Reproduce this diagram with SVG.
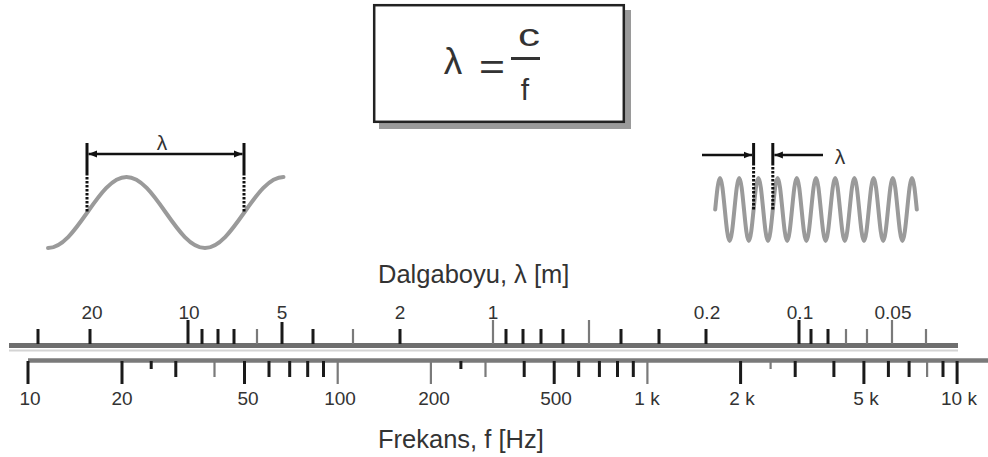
<svg xmlns="http://www.w3.org/2000/svg" width="988" height="457" viewBox="0 0 988 457">
<style>
.t{font-family:"Liberation Sans",Arial,sans-serif;fill:#333}
.num{font-size:19px;text-anchor:middle}
.ax{font-size:25.5px}
.wave{fill:none;stroke:#9a9a9a;stroke-width:4;stroke-linecap:round}
.vs{stroke:#111;stroke-width:3}
.vd{stroke:#111;stroke-width:3;stroke-dasharray:2.5,1.5}
.arr{stroke:#111;stroke-width:2.5;fill:none}
.tk{stroke:#1a1a1a;stroke-width:3;fill:none}
.tg{stroke:#7a7a7a;stroke-width:2.2;fill:none}
</style>
<defs>
<marker id="ah" viewBox="0 0 10 10" refX="10" refY="5" markerWidth="3.4" markerHeight="3.4" orient="auto-start-reverse">
<path d="M0,1 L10,5 L0,9 z" fill="#111"/>
</marker>
</defs>
<rect width="988" height="457" fill="#fff"/>

<g id="formula">
<rect x="379" y="10" width="252" height="119" fill="#9a9a9a"/>
<rect x="374.2" y="5.2" width="249.6" height="116.6" fill="#fff" stroke="#222" stroke-width="2.5"/>
<text class="t" x="453" y="74" font-size="37" text-anchor="middle">λ</text>
<text class="t" x="479" y="79" font-size="37" textLength="26" lengthAdjust="spacingAndGlyphs">=</text>
<text class="t" x="518" y="46" font-size="31" textLength="22" lengthAdjust="spacingAndGlyphs">c</text>
<line x1="511" y1="58.5" x2="540" y2="58.5" stroke="#333" stroke-width="3"/>
<text class="t" x="525" y="100" font-size="30" text-anchor="middle">f</text>
</g>

<g id="long-wave">
<path class="wave" d="M48,248 C62.2,248 74.45,230.7 87.25,212.5 S112.3,177 126.5,177 S153,194.3 165.75,212.5 S190.8,248 205,248 S231.45,230.7 244.25,212.5 S269.3,177 283.5,177"/>
<line class="vs" x1="87" y1="143" x2="87" y2="173"/>
<line class="vd" x1="87" y1="173" x2="87" y2="212.5"/>
<line class="vs" x1="244" y1="143" x2="244" y2="173"/>
<line class="vd" x1="244" y1="173" x2="244" y2="212.5"/>
<line class="arr" x1="88.5" y1="154" x2="242.5" y2="154" marker-start="url(#ah)" marker-end="url(#ah)"/>
<text class="t" x="162" y="150" font-size="21" text-anchor="middle">λ</text>
</g>

<g id="short-wave">
<path class="wave" d="M715.2,209.5 c1.565,-16.14 3.062,-31.5 4.8,-31.5
s3.235,15.36 4.8,31.5 s3.062,31.5 4.8,31.5 s3.235,-15.36 4.8,-31.5 s3.062,-31.5 4.8,-31.5
s3.235,15.36 4.8,31.5 s3.062,31.5 4.8,31.5 s3.235,-15.36 4.8,-31.5 s3.062,-31.5 4.8,-31.5
s3.235,15.36 4.8,31.5 s3.062,31.5 4.8,31.5 s3.235,-15.36 4.8,-31.5 s3.062,-31.5 4.8,-31.5
s3.235,15.36 4.8,31.5 s3.062,31.5 4.8,31.5 s3.235,-15.36 4.8,-31.5 s3.062,-31.5 4.8,-31.5
s3.235,15.36 4.8,31.5 s3.062,31.5 4.8,31.5 s3.235,-15.36 4.8,-31.5 s3.062,-31.5 4.8,-31.5
s3.235,15.36 4.8,31.5 s3.062,31.5 4.8,31.5 s3.235,-15.36 4.8,-31.5 s3.062,-31.5 4.8,-31.5
s3.235,15.36 4.8,31.5 s3.062,31.5 4.8,31.5 s3.235,-15.36 4.8,-31.5 s3.062,-31.5 4.8,-31.5
s3.235,15.36 4.8,31.5 s3.062,31.5 4.8,31.5 s3.235,-15.36 4.8,-31.5 s3.062,-31.5 4.8,-31.5
s3.235,15.36 4.8,31.5 s3.062,31.5 4.8,31.5 s3.235,-15.36 4.8,-31.5 s3.062,-31.5 4.8,-31.5
s3.235,15.36 4.8,31.5 s3.062,31.5 4.8,31.5 s3.235,-15.36 4.8,-31.5 s3.062,-31.5 4.8,-31.5
s3.235,15.36 4.8,31.5"/>
<line class="vs" x1="753.6" y1="143" x2="753.6" y2="163"/>
<line class="vd" x1="753.6" y1="163" x2="753.6" y2="209.5"/>
<line class="vs" x1="772.8" y1="143" x2="772.8" y2="163"/>
<line class="vd" x1="772.8" y1="163" x2="772.8" y2="209.5"/>
<line class="arr" x1="702" y1="155" x2="752" y2="155" marker-end="url(#ah)"/>
<line class="arr" x1="823" y1="155" x2="774.4" y2="155" marker-end="url(#ah)"/>
<text class="t" x="840" y="164" font-size="21" text-anchor="middle">λ</text>
</g>

<g id="wavelength-scale">
<text class="t ax" x="378" y="283">Dalgaboyu, λ [m]</text>
<line x1="9" y1="350.5" x2="958" y2="350.5" stroke="#d4d4d4" stroke-width="2"/>
<line x1="9" y1="345.5" x2="958" y2="345.5" stroke="#6e6e6e" stroke-width="5"/>
<path class="tk" d="M38,329V344 M90,329V344 M202,329V344 M218,329V344 M234,329V344 M313,329V344 M400,329V344 M506,329V344 M523,329V344 M541,329V344 M563,329V344 M621,329V344 M659,329V344 M706,329V344 M811,329V344 M828,329V344 M188,320V344 M799,320V344 M282,322V344"/>
<path class="tg" d="M257,329V344 M353,329V344 M846,329V344 M867,329V344 M926,329V344 M493,320V344 M589,320V344 M892,320V344"/>
<text class="t num" x="92" y="319">20</text>
<text class="t num" x="189" y="319">10</text>
<text class="t num" x="282" y="319">5</text>
<text class="t num" x="400" y="319">2</text>
<text class="t num" x="493" y="319">1</text>
<text class="t num" x="707" y="319">0.2</text>
<text class="t num" x="800" y="319">0.1</text>
<text class="t num" x="893" y="319">0.05</text>
</g>

<g id="frequency-scale">
<line x1="28" y1="360.5" x2="988" y2="360.5" stroke="#7a7a7a" stroke-width="4.5"/>
<path class="tk" d="M28,361V384 M122,361V384 M244.5,361V384 M554.2,361V384 M740.6,361V384 M863.9,361V384 M957.1,361V384 M175.8,361V377 M269,361V377 M289.7,361V377 M307.7,361V377 M323.5,361V377 M524.2,361V377 M578.7,361V377 M599.4,361V377 M617.5,361V377 M633.3,361V377 M795.2,361V377 M833.9,361V377 M888.4,361V377 M909.1,361V377 M943,361V377 M151.2,361V369 M460.9,361V369"/>
<path class="tg" d="M337.7,361V384 M430.9,361V384 M647.4,361V384 M214.5,361V377 M485.5,361V377 M927.1,361V377 M770.6,361V369"/>
<text class="t num" x="30" y="405">10</text>
<text class="t num" x="122" y="405">20</text>
<text class="t num" x="248" y="405">50</text>
<text class="t num" x="340" y="405">100</text>
<text class="t num" x="434" y="405">200</text>
<text class="t num" x="556" y="405">500</text>
<text class="t num" x="647" y="405">1 k</text>
<text class="t num" x="742" y="405">2 k</text>
<text class="t num" x="866" y="405">5 k</text>
<text class="t num" x="959" y="405">10 k</text>
<text class="t ax" x="378" y="448">Frekans, f [Hz]</text>
</g>
</svg>
